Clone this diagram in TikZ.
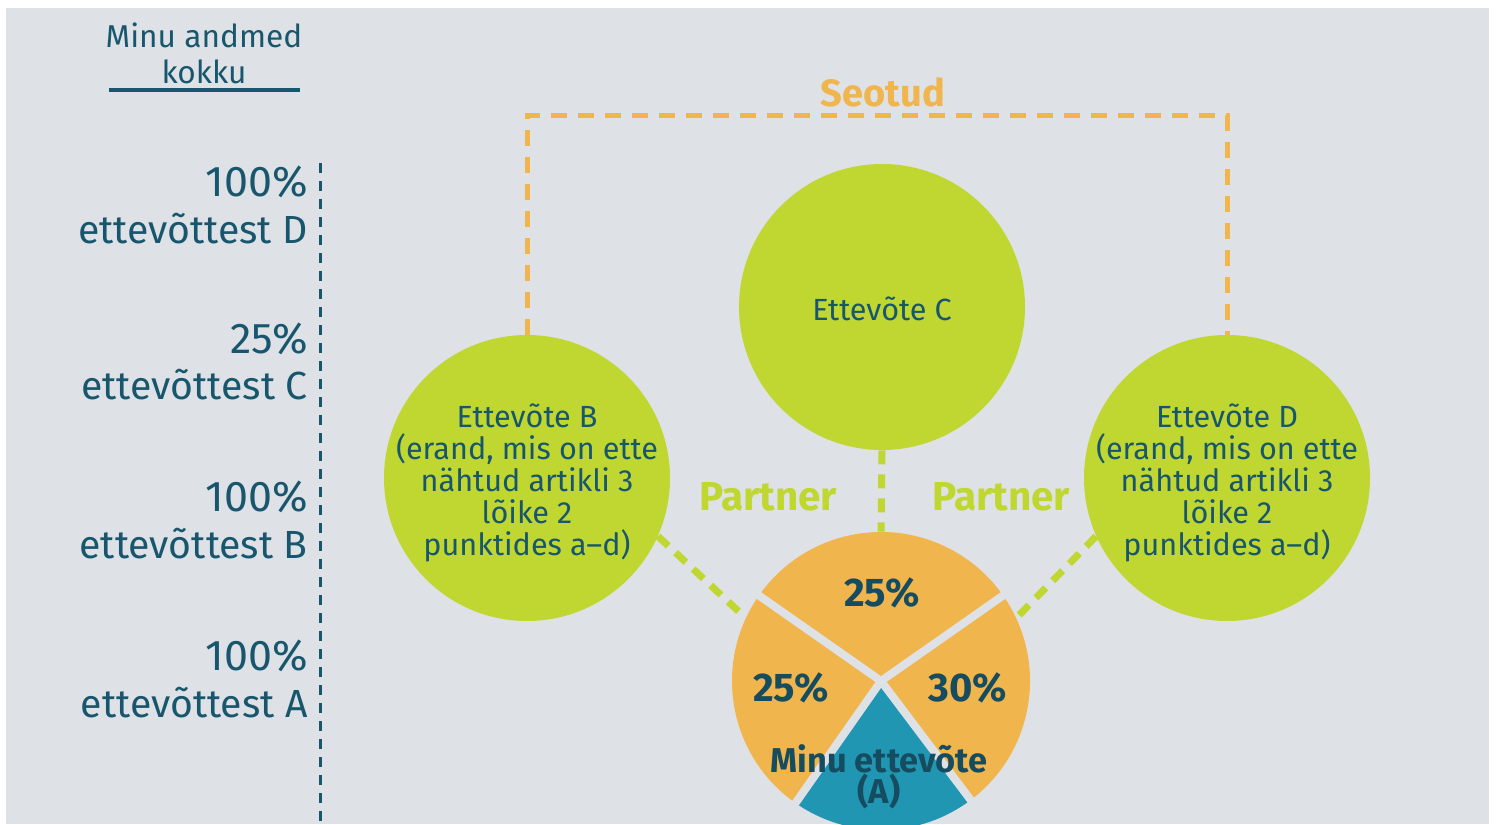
\documentclass[tikz,border=0pt]{standalone}
\usepackage{fontspec}
\setmainfont{Fira Sans}
\definecolor{bg}{HTML}{DEE1E5}
\definecolor{tealtxt}{HTML}{18566E}
\definecolor{limeg}{HTML}{BFD730}
\definecolor{orng}{HTML}{F0B54C}
\definecolor{blu}{HTML}{2196B3}
\definecolor{pietxt}{HTML}{164C60}
\begin{document}
\begin{tikzpicture}[x=0.5pt,y=0.5pt,
  hdr/.style={text=tealtxt, font=\fontsize{15.8pt}{18pt}\selectfont, align=center, inner sep=0},
  lab/.style={text=tealtxt, font=\fontsize{19.6pt}{23pt}\selectfont, inner sep=0, anchor=base east},
  labp/.style={text=tealtxt, font=\fontsize{21.5pt}{23pt}\selectfont, inner sep=0, anchor=base east},
  gcirc/.style={circle, fill=limeg, inner sep=0, minimum size=143pt},
  ctext/.style={text=tealtxt, font=\fontsize{15.3pt}{16pt}\selectfont, align=center, inner sep=0},
  seobold/.style={font=\fontsize{19pt}{19pt}\selectfont\bfseries, inner sep=0},
  partbold/.style={font=\fontsize{20.2pt}{20pt}\selectfont\bfseries, inner sep=0},
  ptext/.style={text=pietxt, font=\fontsize{20pt}{20pt}\selectfont\bfseries, inner sep=0},
  mytext/.style={text=pietxt, font=\fontsize{17.2pt}{15.5pt}\selectfont\bfseries, align=center, inner sep=0},
  vdash/.style={draw=tealtxt, line width=1.5pt, dash pattern=on 5pt off 4pt},
  odash/.style={draw=orng, line width=2.5pt, dash pattern=on 8pt off 5.5pt},
  gdash/.style={draw=limeg, line width=3.5pt, dash pattern=on 7pt off 5pt},
  gap/.style={draw=bg, line width=4pt}]
\useasboundingbox (0,0) rectangle (1497,824);
\clip (0,0) rectangle (1497,824);
\fill[bg] (6,0) rectangle (1489,816);

% header
\node[hdr] (hd) at (204,771) {Minu andmed\\kokku};
\coordinate (ul1) at (109,734);
\coordinate (ul2) at (300,734);
\draw[tealtxt, line width=2pt] (ul1) -- (ul2);

% vertical dashed axis
\coordinate (v1) at (320,661);
\coordinate (v2) at (320,0);
\draw[vdash] (v1) -- (v2);

% left labels
\node[labp] (d1) at (308,627) {100\%};
\node[lab] (d2) at (308,580) {ettevõttest D};
\node[labp] (c1) at (308,470) {25\%};
\node[lab] (c2) at (308,424) {ettevõttest C};
\node[labp] (b1) at (308,312) {100\%};
\node[lab] (b2) at (308,265) {ettevõttest B};
\node[labp] (a1) at (308,154) {100\%};
\node[lab] (a2) at (308,107) {ettevõttest A};

% circles
\node[gcirc] (B) at (527,346) {};
\node[gcirc] (C) at (882,517) {};
\node[gcirc] (D) at (1227,346) {};

% pie
\node[circle, inner sep=0, minimum size=149pt] (A) at (881,143) {};
\fill[orng] (A.center) -- ++(35:74.5pt) arc[start angle=35, end angle=145, radius=74.5pt] -- cycle;
\fill[orng] (A.center) -- ++(145:74.5pt) arc[start angle=145, end angle=235, radius=74.5pt] -- cycle;
\fill[blu] (A.center) -- ++(235:74.5pt) arc[start angle=235, end angle=307, radius=74.5pt] -- cycle;
\fill[orng] (A.center) -- ++(307:74.5pt) arc[start angle=307, end angle=395, radius=74.5pt] -- cycle;
\draw[gap] (A.center) -- ++(35:80pt);
\draw[gap] (A.center) -- ++(145:80pt);
\draw[gap] (A.center) -- ++(235:80pt);
\draw[gap] (A.center) -- ++(307:80pt);

% Seotud bracket
\coordinate (top) at (880,708);
\draw[odash] (B.north) -- (B.north |- top) -- (D.north |- top) -- (D.north);
\node[seobold, text=orng] (seo) at (883,732) {Seotud};

% partner links
\draw[gdash] (C.south) -- (A.north);
\draw[gdash] (B.-24) -- (A.155);
\draw[gdash] (D.204) -- (A.25);
\node[partbold, text=limeg] (pl) at (768,327) {Partner};
\node[partbold, text=limeg] (pr) at (1001,327) {Partner};

% circle texts
\node[ctext] (Bt) at (527,341) {Ettevõte B\\(erand, mis on ette\\nähtud artikli 3\\lõike 2\\punktides a–d)};
\node[ctext] (Ct) at (882,515) {Ettevõte C};
\node[ctext] (Dt) at (1227,341) {Ettevõte D\\(erand, mis on ette\\nähtud artikli 3\\lõike 2\\punktides a–d)};

% pie texts
\node[ptext] (p1) at (882,231) {25\%};
\node[ptext] (p2) at (791,136) {25\%};
\node[ptext] (p3) at (968,136) {30\%};
\node[mytext] (me) at (879,47) {Minu ettevõte\\(A)};
\end{tikzpicture}
\end{document}
